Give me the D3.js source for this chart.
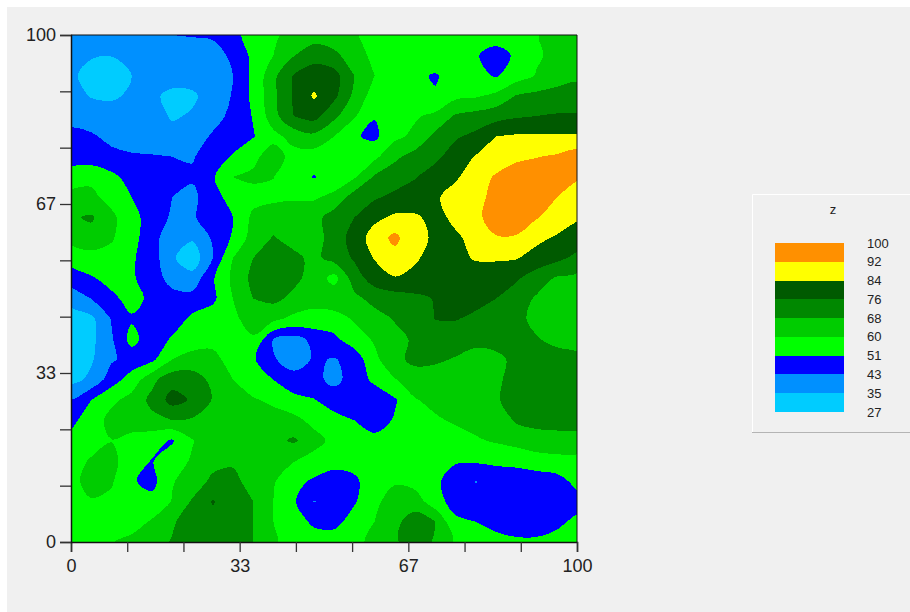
<!DOCTYPE html>
<html>
<head>
<meta charset="utf-8">
<title>z contour</title>
<script src="https://cdn.jsdelivr.net/npm/d3@7"></script>
<style>
  html, body { margin: 0; padding: 0; background: #ffffff; }
  text { font-family: "Liberation Sans", Arial, sans-serif; fill: #222; }
</style>
</head>
<body>
<div id="chart"></div>
<script>
// contour levels and band colours, low to high
var levels = [27, 35, 43, 51, 60, 68, 76, 84, 92, 100];
var bandColors = ["#00ccff", "#0090ff", "#0000ff", "#00ff00", "#00cc00", "#008800", "#005a00", "#ffff00", "#ff9000"];
var legendTitle = "z";

// axis ticks, only every third one has a label
var tickValues = [0, 100/9, 200/9, 300/9, 400/9, 500/9, 600/9, 700/9, 800/9, 100];
var tickLabels = ["0", "", "", "33", "", "", "67", "", "", "100"];

// z, x = 0,4,...,100 along a row, rows from y = 100 down to y = 0
var zRows = [
  [38,38,38,38,38,43,43.5,44,48,55,59,62,64,63,60.5,58,57,56,55,55,56,57,58,59.7,62,63],
  [37,35.5,35.2,37,38,39,39,40,44.5,53,60,67.5,73,70,63.5,58,56,55,59,53,52,46,53,59,62,64],
  [36,33,32,35,38,38.5,39,41,43,53,66,76.5,80,79,68,60,57,53,50,56,54,50,56,60.5,63,66],
  [38,34.5,34,36,36.5,33,33.5,39,43.5,53,66,77,85,78,66,56,56,56,52,58,59,62,68.5,70,72,72],
  [39,39,38,38,39,34,36,40,45,51.5,65,76,79,70,61,51.5,58,59,62,69,71,73,75,76,76.6,76.6],
  [46,44,41,39,39,38,39,44,46,50.5,57.5,63,66,60,52,49,58,62,70,75,78,84,85,85,85,85],
  [47,46,45,44,43.5,43,42.5,46,52,58,64,57,56,55,55,58,66.5,71,74,80,84.5,87,90.8,91.7,93,96],
  [55,58,53,48,46,46,44,50,60,61.5,60.2,55,50.5,55,59,69,72,75.5,80,83,88,93,95,96,95,93],
  [63,62,57,51,47,43,41,48,54,57,58,59,59,62,72,75,78,80,83,87,90,94,97,96,92,88],
  [67,69,62,54,47,42,42,47,51,62,65,65,65,72,76,82,85.5,85,82,85.5,91,94,95,92.5,89,85],
  [63,65,61,54,46,38,36,44,52,64,68.5,65,64,72,79,88,94,86,83,83,86,91.7,91.5,86,83,80],
  [55,57,57,52,47,36,30,43,60,68,72,70,66,71,77,84.5,89,85,81,82.5,84.5,85,84.5,81,78,74],
  [46,50,54,52,47,40,38,50,62,70,72,70,65,57,72,80,83.5,82,80,80,81,79,77,72,67,66],
  [39,43,49,54,49,46,46,49,60,68,70,66,63,66,66,70.5,72,74,76.5,79,79,76,72,67,65,65],
  [30,33,43.5,50,47,46,53,56,58,64,62,58,57,56,61,65,68.5,71,76.3,76.5,74,72,70,66,64,64],
  [30,33,42,54,46,52,56,57,58,59,43,40,45,49,56,61,66,69,70,71,71,71,70,68.5,66,65],
  [31,34,42,46,49,60,63,63,56,52,44,38,44,42.5,45.5,58,66,70,69,67.5,64,66,70,71,71,70],
  [32,37,47,55,66,73,72,66,60,54,51,47,45,41,46,53,59.5,64,65,65,65,67,70,72,73,73],
  [43,51,58,63,70,79,75,67.5,62,61,58,53,51.5,47,46,45,50,59.5,62,63,64,67.5,70,72,74,74],
  [49,55,63,66,66,68,67,64,65,65,64,63,57,54,51,46,52,54,59,61,63,63,69,71,72,72],
  [53,56,59.8,56,55,50,59.5,66,66,67,66,69,64,57,55,54,54,55,56,57,59,61,63,64,64,64],
  [56,61,62,56,50.5,56,61,65,67,66,64,60.5,56,54,53,53,53,54,53.5,52,52,53,54,57,58,58],
  [56,65,61,52,48,59.5,63,70,70,65,61,53,50,47,50,54,59,57,53,46,42.8,45,45,45,47,54],
  [57,59,58,55,54,60.5,69,76.5,72,68,60,52,42.8,45,50,58,64,64,55,47,45,44,44,44,45,47],
  [57,57,56,56,61,67,72,74,72,68,60,56,49,48,55,60,66,72,68,53,51,46,45,45,49,53],
  [55,56,59.5,62.5,65,68.5,72,74,72,68,61,57,56,56,58,62,67,72,67,59,57,56,53,53,54,56]
];

var nx = zRows[0].length;
var ny = zRows.length;

// dimensions
var W = 910, H = 612;
var margin = {top: 35, left: 71};
var plotW = 506, plotH = 507;

var svg = d3.select("#chart")
    .append("svg")
        .attr("width", W)
        .attr("height", H)
        .style("display", "block");

// window background
svg.append("rect")
    .attr("x", 7).attr("y", 7)
    .attr("width", W - 7).attr("height", H - 7)
    .style("fill", "#f0f0f0");

var plot = svg.append("g")
    .attr("transform", "translate(" + margin.left + "," + margin.top + ")");

var xScale = d3.scaleLinear().domain([0, 100]).range([0, plotW]);
var yScale = d3.scaleLinear().domain([0, 100]).range([plotH, 0]);

plot.append("clipPath")
    .attr("id", "plot-clip")
  .append("rect")
    .attr("width", plotW)
    .attr("height", plotH);

// d3.contours puts value i at i + 0.5, so shift back to data units
var stepX = 100 / (nx - 1), stepY = 100 / (ny - 1);
var ringLine = d3.line()
    .x(function(p) { return xScale((p[0] - 0.5) * stepX); })
    .y(function(p) { return yScale(100 - (p[1] - 0.5) * stepY); })
    .curve(d3.curveCatmullRomClosed.alpha(0.5));

// round off the marching squares corners, the original outlines are smooth
function bandPath(d) {
    var out = "";
    d.coordinates.forEach(function(poly) {
        poly.forEach(function(ring) {
            out += ringLine(ring.slice(0, -1));
        });
    });
    return out;
}

var contours = d3.contours()
    .size([nx, ny])
    .thresholds(levels.slice(0, -1))
    (d3.merge(zRows));

plot.append("g")
    .attr("clip-path", "url(#plot-clip)")
  .selectAll("path.band")
    .data(contours)
    .enter()
    .append("path")
    .attr("class", "band")
    .attr("d", bandPath)
    .style("fill", function(d, i) { return bandColors[i]; })
    .style("fill-rule", "evenodd")
    .style("shape-rendering", "crispEdges");

// axes
var fmt = function(d, i) { return tickLabels[i]; };

var xAxis = plot.append("g")
    .attr("transform", "translate(0," + plotH + ")")
    .call(d3.axisBottom(xScale).tickValues(tickValues).tickFormat(fmt).tickSize(10).tickPadding(7));

var yAxis = plot.append("g")
    .call(d3.axisLeft(yScale).tickValues(tickValues).tickFormat(fmt).tickSize(11).tickPadding(4));

[xAxis, yAxis].forEach(function(a) {
    a.selectAll("text").style("font-size", "18px").style("font-family", "'Liberation Sans', Arial, sans-serif").style("fill", "#222");
    a.selectAll("line").style("stroke", "#333").style("stroke-width", "1.3px");
    a.select(".domain").style("stroke", "#111").style("stroke-width", "1.5px");
});

// top and right frame
plot.append("path")
    .attr("d", "M0,0H" + plotW + "V" + plotH)
    .style("fill", "none")
    .style("stroke", "#111")
    .style("stroke-width", "1px");

// legend panel
var legend = svg.append("g");
legend.append("rect")
    .attr("x", 752).attr("y", 195)
    .attr("width", 158).attr("height", 237)
    .style("fill", "#f0f0f0");
legend.append("path")
    .attr("d", "M752.5,432V194.5H910")
    .style("fill", "none")
    .style("stroke", "#ffffff");
legend.append("path")
    .attr("d", "M752,432.5H910")
    .style("fill", "none")
    .style("stroke", "#b4b4b4");

legend.append("text")
    .attr("x", 833).attr("y", 214)
    .style("text-anchor", "middle")
    .style("font-size", "13px")
    .text(legendTitle);

var legendY = d3.scaleLinear()
    .domain([levels.length - 1, 0])
    .range([243, 412]);

legend.selectAll("rect.swatch")
    .data(bandColors)
    .enter()
    .append("rect")
    .attr("class", "swatch")
    .attr("x", 775)
    .attr("width", 69)
    .attr("y", function(d, i) { return legendY(i + 1); })
    .attr("height", function(d, i) { return legendY(i) - legendY(i + 1); })
    .style("fill", function(d) { return d; })
    .style("shape-rendering", "crispEdges");

legend.selectAll("text.level")
    .data(levels)
    .enter()
    .append("text")
    .attr("class", "level")
    .attr("x", 867)
    .attr("y", function(d, i) { return legendY(i); })
    .attr("dy", "0.35em")
    .style("font-size", "13px")
    .text(function(d) { return d; });
</script>
</body>
</html>
